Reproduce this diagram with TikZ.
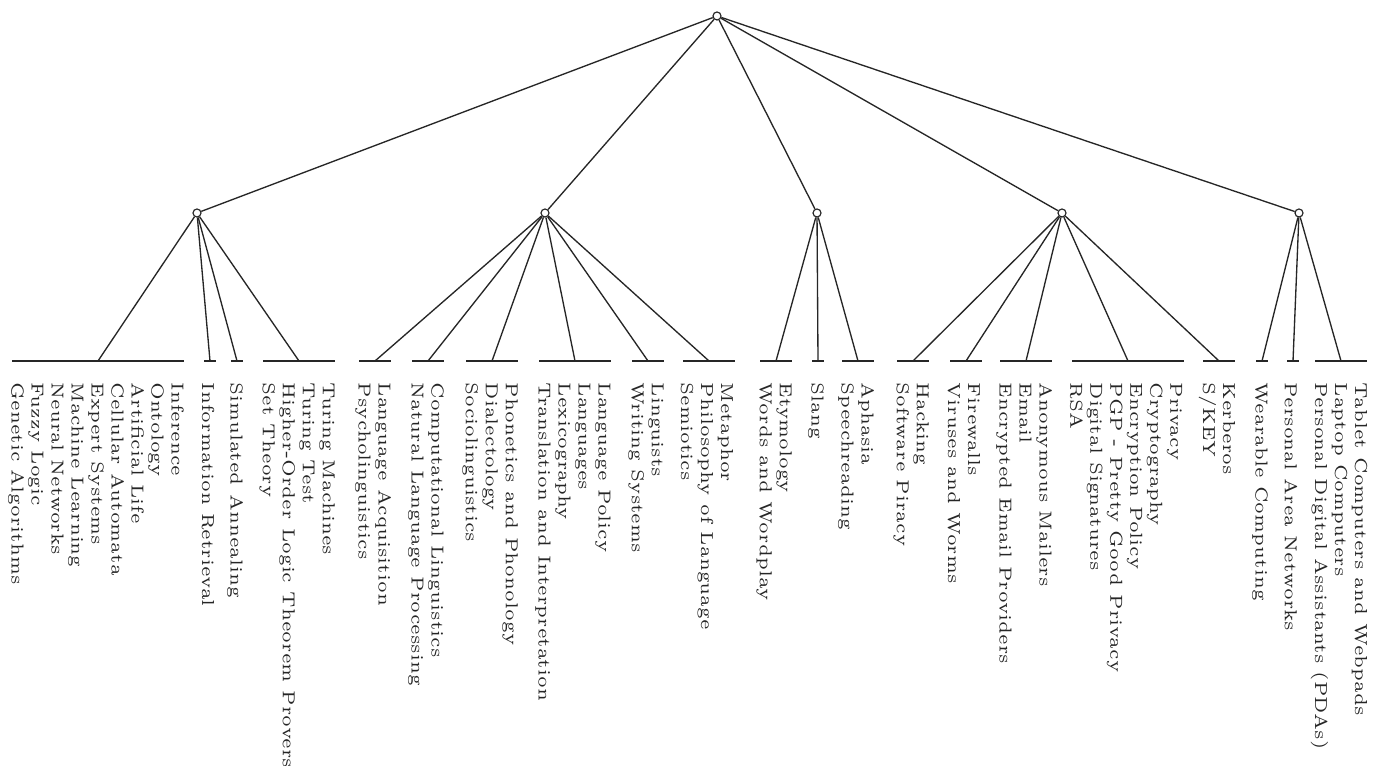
\documentclass[tikz,border=0pt]{standalone}
\usetikzlibrary{calc}
\tikzset{
  edge/.style={line width=0.4pt, draw=black!85},
  bar/.style={line width=0.6pt, draw=black!85},
  knot/.style={circle, draw=black!85, fill=white, inner sep=0pt, minimum size=2.4pt, line width=0.35pt},
  leaf/.style={rotate=-90, anchor=west, align=left, inner sep=0pt, text=black!85, font=\fontsize{5.2}{6}\selectfont},
}
% name, x, half width of bar, text
\newcommand\leafgroup[4]{%
  \coordinate (#1) at (#2,361);
  \draw[bar] ($(#1)+(-#3,0)$) -- ($(#1)+(#3,0)$);
  \node[leaf] (#1t) at ($(#1)+(-2,21)$) {#4};
}
\begin{document}
\begin{tikzpicture}[x=0.3pt,y=-0.3pt]
\fill[white] (0,0) rectangle (1385,766);
\useasboundingbox (0,0) rectangle (1385,766);

\node[knot] (root) at (717,16) {};
\node[knot] (c1) at (197,213) {};
\node[knot] (c2) at (545,213) {};
\node[knot] (c3) at (817,213) {};
\node[knot] (c4) at (1062,213) {};
\node[knot] (c5) at (1299,213) {};

\foreach \c in {c1,c2,c3,c4,c5} \draw[edge] (root) -- (\c);

\leafgroup{a1}{98}{86}{Inference\\Ontology\\Artificial Life\\Cellular Automata\\Expert Systems\\Machine Learning\\Neural Networks\\Fuzzy Logic\\Genetic Algorithms}
\leafgroup{a2}{210}{6}{Information Retrieval}
\leafgroup{a3}{237}{6}{Simulated Annealing}
\leafgroup{a4}{299}{36}{Turing Machines\\Turing Test\\Higher-Order Logic Theorem Provers\\Set Theory}

\leafgroup{b1}{375}{16}{Language Acquisition\\Psycholinguistics}
\leafgroup{b2}{428}{16}{Computational Linguistics\\Natural Language Processing}
\leafgroup{b3}{492}{26}{Phonetics and Phonology\\Dialectology\\Sociolinguistics}
\leafgroup{b4}{575}{36}{Language Policy\\Languages\\Lexicography\\Translation and Interpretation}
\leafgroup{b5}{648}{16}{Linguists\\Writing Systems}
\leafgroup{b6}{709}{26}{Metaphor\\Philosophy of Language\\Semiotics}

\leafgroup{d1}{776}{16}{Etymology\\Words and Wordplay}
\leafgroup{d2}{818}{6}{Slang}
\leafgroup{d3}{858}{16}{Aphasia\\Speechreading}

\leafgroup{e1}{913}{16}{Hacking\\Software Piracy}
\leafgroup{e2}{966}{16}{Firewalls\\Viruses and Worms}
\leafgroup{e3}{1026}{26}{Anonymous Mailers\\Email\\Encrypted Email Providers}
\leafgroup{e4}{1128}{56}{Privacy\\Cryptography\\Encryption Policy\\PGP - Pretty Good Privacy\\Digital Signatures\\RSA}
\leafgroup{e5}{1219}{16}{Kerberos\\S/KEY}

\leafgroup{f1}{1262}{6}{Wearable Computing}
\leafgroup{f2}{1293}{6}{Personal Area Networks}
\leafgroup{f3}{1341}{26}{Tablet Computers and Webpads\\Laptop Computers\\Personal Digital Assistants (PDAs)}

\foreach \l in {a1,a2,a3,a4} \draw[edge] (c1) -- (\l);
\foreach \l in {b1,b2,b3,b4,b5,b6} \draw[edge] (c2) -- (\l);
\foreach \l in {d1,d2,d3} \draw[edge] (c3) -- (\l);
\foreach \l in {e1,e2,e3,e4,e5} \draw[edge] (c4) -- (\l);
\foreach \l in {f1,f2,f3} \draw[edge] (c5) -- (\l);
\end{tikzpicture}
\end{document}
